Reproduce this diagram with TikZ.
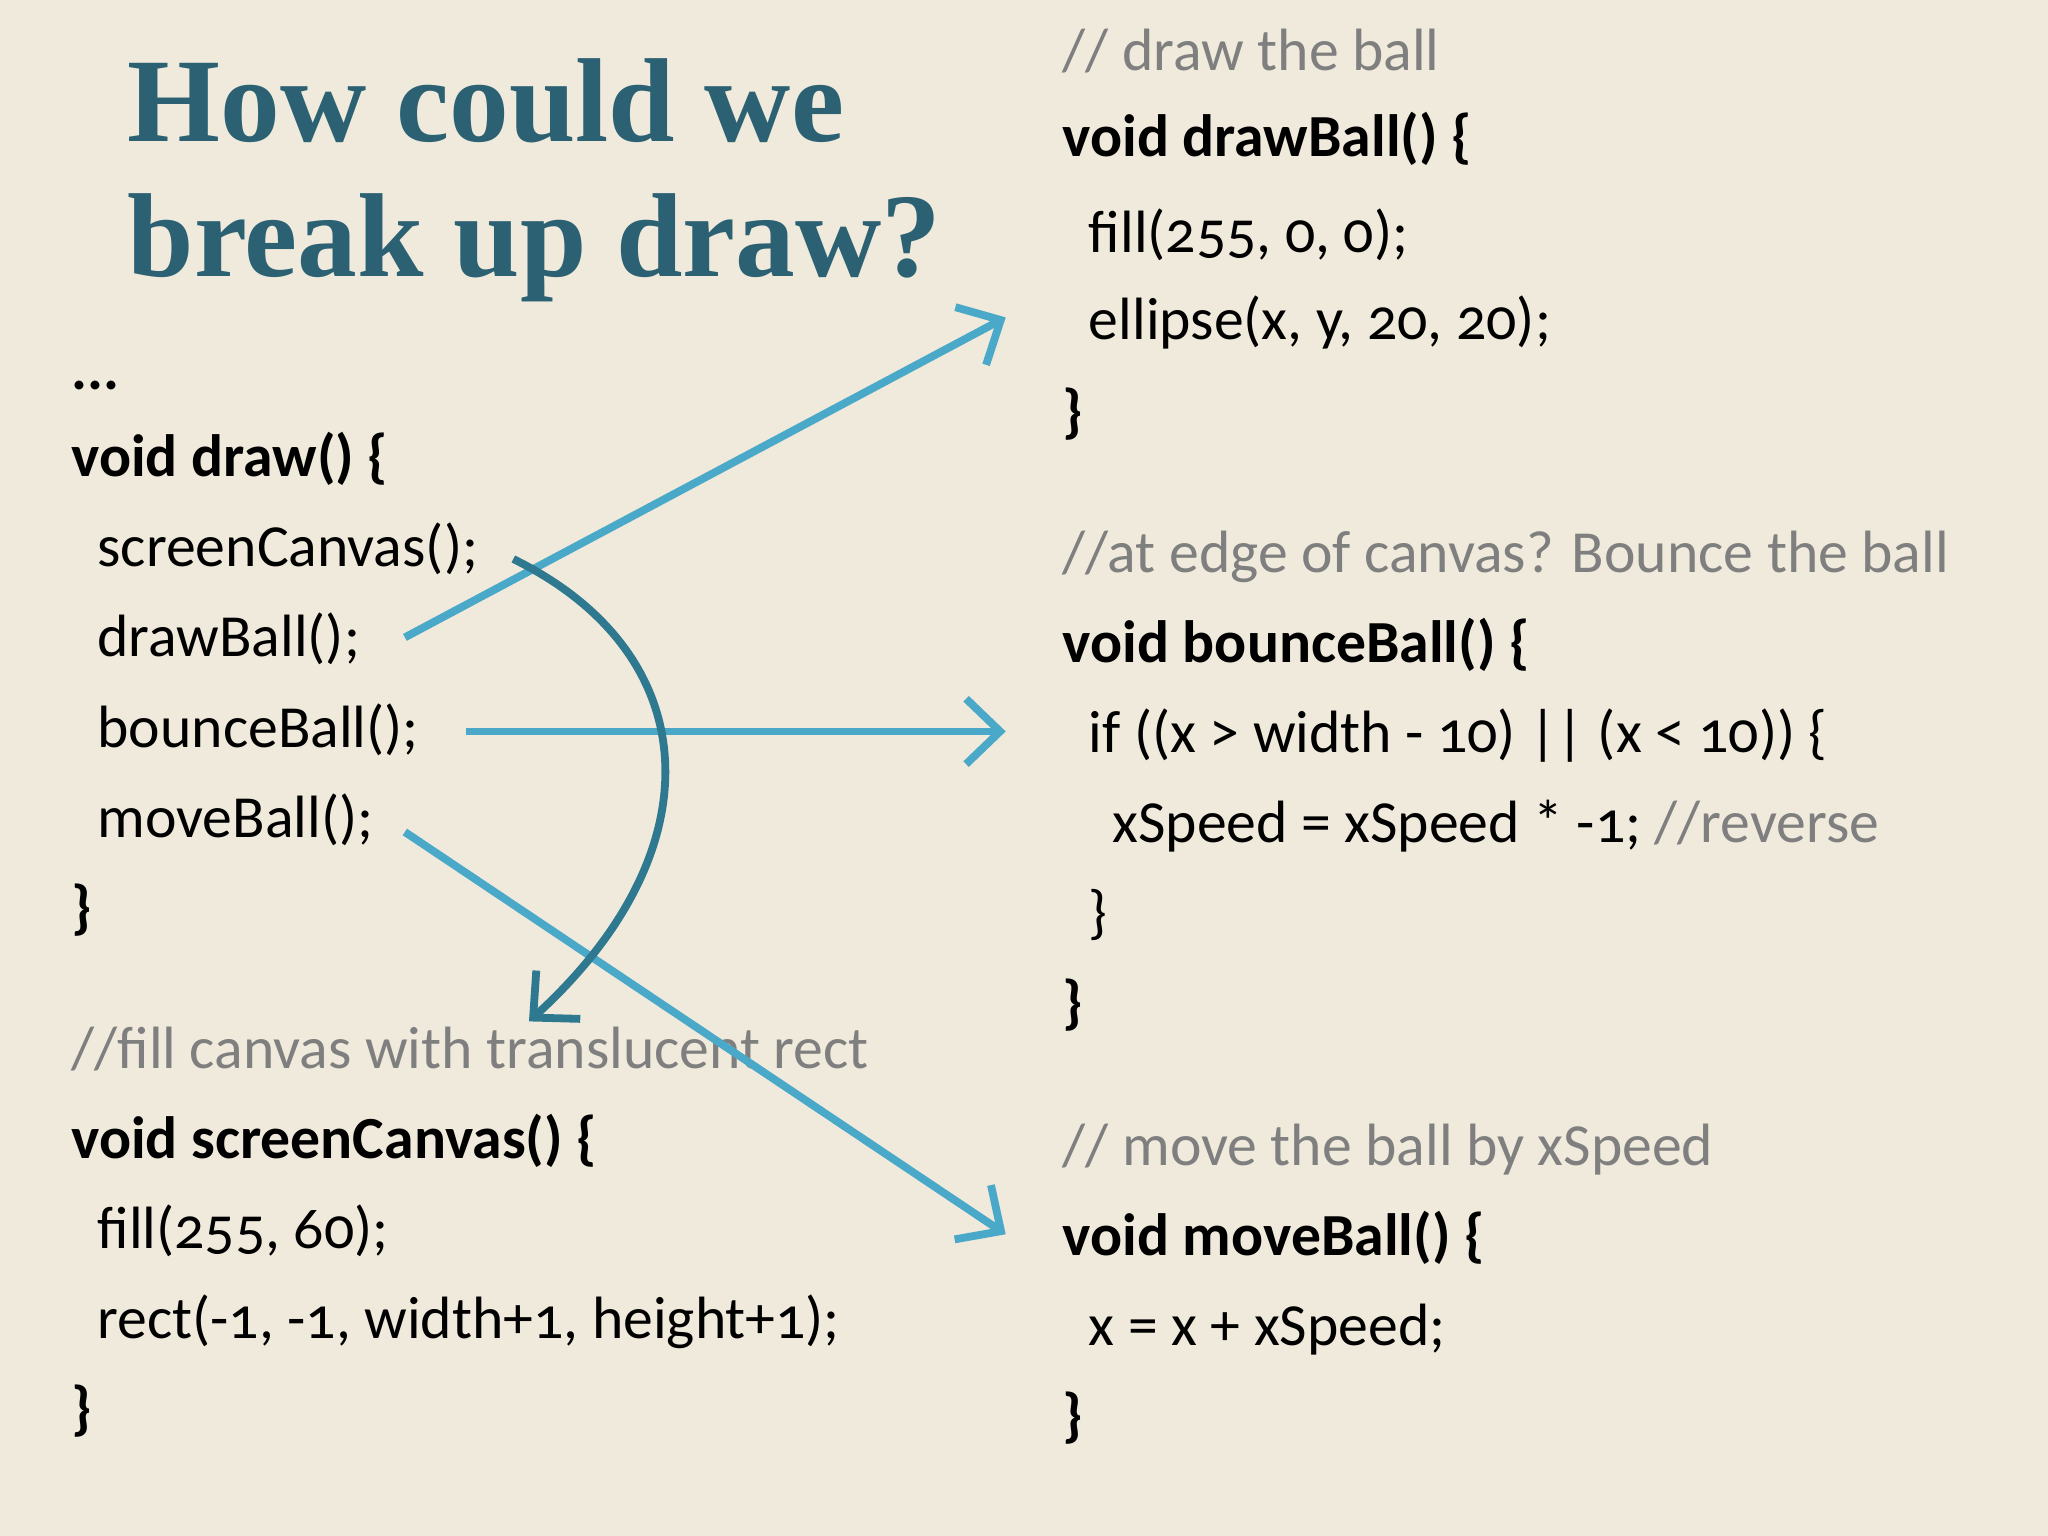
\documentclass[tikz,border=0pt]{standalone}
\usepackage{fontspec}
\setmainfont{Carlito}[Numbers=OldStyle]
\newfontfamily\titlefont{Liberation Serif}
\usetikzlibrary{arrows.meta}
\definecolor{bg}{HTML}{EFEADB}
\definecolor{ttl}{HTML}{2B6173}
\definecolor{cm}{HTML}{7F7F7F}
\definecolor{arr}{HTML}{4AA8C8}
\definecolor{darr}{HTML}{2E7890}
\tikzset{
 code/.style={anchor=base west,inner sep=0,font=\fontsize{13}{15}\selectfont},
 kw/.style={code,font=\fontsize{13}{15}\selectfont\bfseries},
 cmt/.style={code,text=cm},
 ttl/.style={anchor=base west,inner sep=0,text=ttl,font=\fontsize{26}{30}\titlefont\bfseries},
 link/.style={arr,line width=1.7pt,-{Straight Barb[length=2.6mm,width=5mm,line width=1.7pt]}},
}
\begin{document}
\begin{tikzpicture}[x=0.01cm,y=-0.01cm]
\fill[bg] (0,0) rectangle (1568,1176);
\node[ttl] (t1) at (97,108) {How could we};
\node[ttl] (t2) at (97,212) {break up draw?};
% left
\node[kw] (dots) at (54,298) {...};
\node[kw] (vd) at (54,365) {void draw() \{};
\node[code] (sc) at (74,434) {screenCanvas();};
\node[code] (db) at (74,503) {drawBall();};
\node[code] (bb) at (74,572) {bounceBall();};
\node[code] (mb) at (74,641) {moveBall();};
\node[kw] (c1) at (54,710) {\}};
\node[cmt] (fc) at (54,818) {//fill canvas with translucent rect};
\node[kw] (vsc) at (54,887) {void screenCanvas() \{};
\node[code] (f1) at (74,956) {fill(255, 60);};
\node[code] (r1) at (74,1025) {rect(-1, -1, width+1, height+1);};
\node[kw] (c2) at (54,1094) {\}};
% right
\node[cmt] (cd) at (813,54) {// draw the ball};
\node[kw] (vdb) at (813,120) {void drawBall() \{};
\node[code] (f2) at (833,193) {fill(255, 0, 0);};
\node[code] (el) at (833,260) {ellipse(x, y, 20, 20);};
\node[kw] (c3) at (813,330) {\}};
\node[cmt] (ce) at (813,438) {//at edge of canvas? Bounce the ball};
\node[kw] (vbb) at (813,507) {void bounceBall() \{};
\node[code] (if) at (833,576) {if ((x > width - 10) || (x < 10)) \{};
\node[code] (xs) at (851,645) {xSpeed = xSpeed * -1; \textcolor{cm}{//reverse}};
\node[code] (c4) at (833,714) {\}};
\node[kw] (c5) at (813,783) {\}};
\node[cmt] (cmv) at (813,892) {// move the ball by xSpeed};
\node[kw] (vmb) at (813,961) {void moveBall() \{};
\node[code] (xx) at (833,1030) {x = x + xSpeed;};
\node[kw] (c6) at (813,1099) {\}};
% connectors
\coordinate (a1) at (310,488); \coordinate (b1) at (770,243);
\coordinate (a2) at (357,560); \coordinate (b2) at (770,560);
\coordinate (a3) at (310,637); \coordinate (b3) at (770,945);
\coordinate (a4) at (393,428); \coordinate (b4) at (405,782);
\draw[link] (a1) -- (b1);
\draw[link] (a2) -- (b2);
\draw[link] (a3) -- (b3);
\draw[link,darr] (a4) .. controls (540,500) and (550,650) .. (b4);
\end{tikzpicture}
\end{document}
